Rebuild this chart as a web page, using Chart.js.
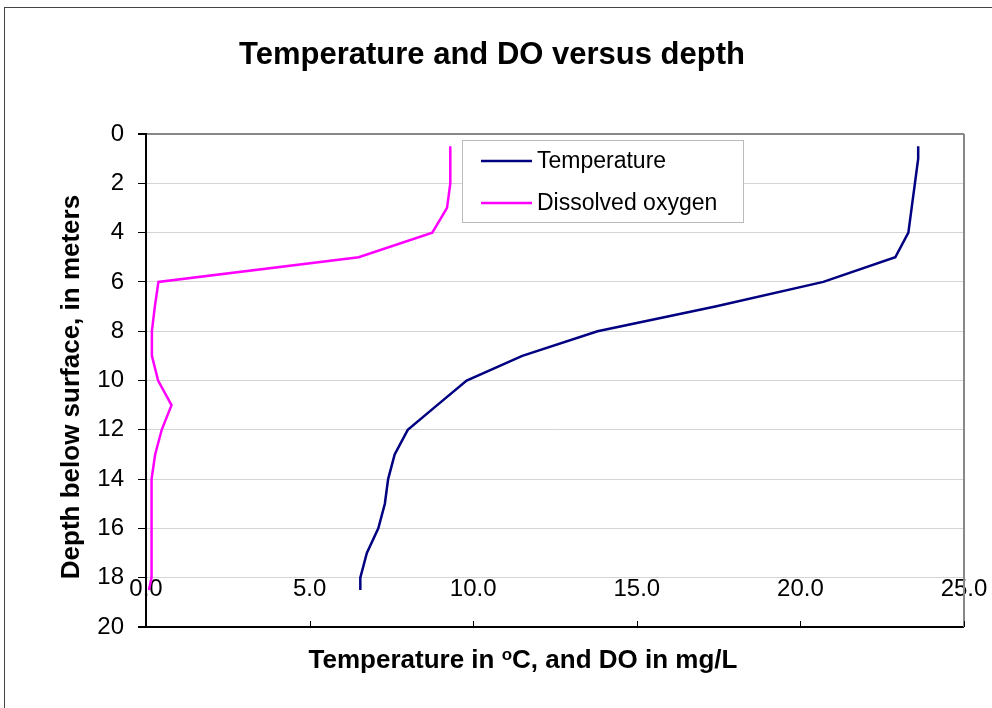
<!DOCTYPE html>
<html>
<head>
<meta charset="utf-8">
<script src="https://cdn.jsdelivr.net/npm/chart.js@4.4.0/dist/chart.umd.min.js"></script>
<style>
  html, body { margin: 0; padding: 0; background: #fff; }
</style>
</head>
<body>
<canvas id="depthChart" width="992" height="708"></canvas>
<script>
// Depth profile (meters below surface)
const depths = [0.5, 1, 2, 3, 4, 5, 6, 7, 8, 9, 10, 11, 12, 13, 14, 15, 16, 17, 18, 18.5];
// Temperature, deg C
const temperature = [23.6, 23.6, 23.5, 23.4, 23.3, 22.9, 20.7, 17.4, 13.8, 11.5, 9.8, 8.9, 8.0, 7.6, 7.4, 7.3, 7.1, 6.75, 6.55, 6.55];
// Dissolved oxygen, mg/L
const dissolvedOxygen = [9.3, 9.3, 9.3, 9.2, 8.75, 6.5, 0.38, 0.27, 0.18, 0.18, 0.37, 0.78, 0.48, 0.28, 0.17, 0.17, 0.17, 0.17, 0.17, 0.09];

// Tick labels
const valueTicks = [0, 5, 10, 15, 20, 25];
const depthTicks = [0, 2, 4, 6, 8, 10, 12, 14, 16, 18, 20];

const FONT = "'Liberation Sans', Arial, sans-serif";
Chart.defaults.font.family = FONT;
Chart.defaults.color = '#000';

function toPoints(xs) {
  return depths.map((d, i) => ({ x: xs[i], y: d }));
}

// titles, legend box, borders and inner tick marks
const decorations = {
  id: 'decorations',
  beforeDraw(chart) {
    const ctx = chart.ctx;
    ctx.save();
    ctx.strokeStyle = '#444';
    ctx.lineWidth = 1;
    ctx.strokeRect(4.5, 7.5, 1200, 1200);
    ctx.restore();
  },
  afterDraw(chart) {
    const ctx = chart.ctx;
    const area = chart.chartArea;
    const xs = chart.scales.x;
    ctx.save();

    // right frame
    ctx.strokeStyle = '#888';
    ctx.lineWidth = 2;
    ctx.beginPath();
    ctx.moveTo(area.right, area.top);
    ctx.lineTo(area.right, area.bottom);
    ctx.stroke();

    // tick marks on bottom axis (pointing up)
    ctx.strokeStyle = '#000';
    ctx.lineWidth = 1;
    xs.ticks.forEach(t => {
      const px = Math.round(xs.getPixelForValue(t.value)) + 0.5;
      ctx.beginPath();
      ctx.moveTo(px, area.bottom);
      ctx.lineTo(px, area.bottom - 6);
      ctx.stroke();
    });

    // main title
    ctx.fillStyle = '#000';
    ctx.textAlign = 'center';
    ctx.textBaseline = 'middle';
    ctx.font = 'bold 31px ' + FONT;
    ctx.fillText('Temperature and DO versus depth', 492, 55);

    // y title
    ctx.save();
    ctx.translate(72, 387);
    ctx.rotate(-Math.PI / 2);
    ctx.font = 'bold 26px ' + FONT;
    ctx.fillText('Depth below surface, in meters', 0, 0);
    ctx.restore();

    // x title with superscript o
    const parts = [
      { t: 'Temperature in ', size: 26, dy: 0 },
      { t: 'o', size: 17, dy: -8 },
      { t: 'C, and DO in mg/L', size: 26, dy: 0 }
    ];
    let total = 0;
    parts.forEach(p => { ctx.font = 'bold ' + p.size + 'px ' + FONT; p.w = ctx.measureText(p.t).width; total += p.w; });
    let cx = 523 - total / 2;
    ctx.textAlign = 'left';
    ctx.textBaseline = 'alphabetic';
    parts.forEach(p => {
      ctx.font = 'bold ' + p.size + 'px ' + FONT;
      ctx.fillText(p.t, cx, 668 + p.dy);
      cx += p.w;
    });

    // legend
    ctx.fillStyle = '#fff';
    ctx.fillRect(462, 140, 281, 82);
    ctx.strokeStyle = '#bbb';
    ctx.lineWidth = 1;
    ctx.strokeRect(462.5, 140.5, 281, 82);
    ctx.font = '23px ' + FONT;
    ctx.textBaseline = 'middle';
    chart.data.datasets.forEach((ds, i) => {
      const y = 161 + i * 42;
      ctx.strokeStyle = ds.borderColor;
      ctx.lineWidth = 2.5;
      ctx.beginPath();
      ctx.moveTo(481, y);
      ctx.lineTo(532, y);
      ctx.stroke();
      ctx.fillStyle = '#000';
      ctx.fillText(ds.label, 537, y + 1);
    });

    ctx.restore();
  }
};

new Chart(document.getElementById('depthChart'), {
  type: 'scatter',
  data: {
    datasets: [
      {
        label: 'Temperature',
        data: toPoints(temperature),
        showLine: true,
        borderColor: '#000080',
        borderWidth: 2.5,
        pointRadius: 0,
        tension: 0
      },
      {
        label: 'Dissolved oxygen',
        data: toPoints(dissolvedOxygen),
        showLine: true,
        borderColor: '#ff00ff',
        borderWidth: 2.5,
        pointRadius: 0,
        tension: 0
      }
    ]
  },
  options: {
    responsive: false,
    animation: false,
    layout: { padding: { top: 134, right: 28, bottom: 81, left: 0 } },
    plugins: {
      legend: { display: false },
      title: { display: false },
      tooltip: { enabled: false }
    },
    scales: {
      x: {
        type: 'linear',
        min: 0,
        max: 25,
        position: { y: 18 },
        afterBuildTicks: s => { s.ticks = valueTicks.map(v => ({ value: v })); },
        ticks: {
          font: { size: 24 },
          padding: -3,
          callback: v => v.toFixed(1)
        },
        grid: { display: false, drawTicks: false },
        border: { display: false }
      },
      y: {
        type: 'linear',
        reverse: true,
        min: 0,
        max: 20,
        position: 'left',
        afterBuildTicks: s => { s.ticks = depthTicks.map(v => ({ value: v })); },
        afterFit: s => { s.width = 146; },
        ticks: {
          font: { size: 24 },
          padding: 14
        },
        grid: {
          color: c => c.tick.value === 0 ? '#888' : (c.tick.value === 20 ? '#000' : '#d4d4d4'),
          lineWidth: c => (c.tick.value === 0 || c.tick.value === 20) ? 2 : 1,
          tickColor: '#000',
          tickLength: 8
        },
        border: { color: '#000', width: 2 }
      }
    }
  },
  plugins: [decorations]
});
</script>
</body>
</html>
